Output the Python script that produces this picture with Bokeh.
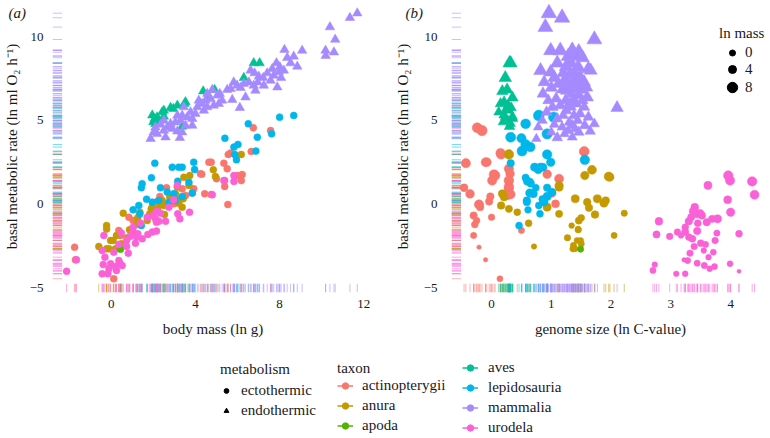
import numpy as np
from bokeh.plotting import figure
from bokeh.layouts import column, row
from bokeh.models import ColumnDataSource, Legend, LegendItem, FixedTicker
from bokeh.embed import file_html
from bokeh.resources import INLINE

# ---------------- data ----------------
taxa = ["actinopterygii", "anura", "apoda", "aves", "lepidosauria", "mammalia", "urodela"]
taxon_colors = ["#F8766D", "#C49A00", "#53B400", "#00C094", "#00B6EB", "#A58AFF", "#FB61D7"]
taxon_metabolism = ["ectothermic", "ectothermic", "ectothermic", "endothermic",
                    "ectothermic", "endothermic", "ectothermic"]
metabolism_types = ["ectothermic", "endothermic"]

mass_ticks = [0, 4, 8, 12]
genome_ticks = [0, 1, 2, 3, 4]
bmr_ticks = [-5, 0, 5, 10]
size_legend_values = [0, 4, 8]

# body mass (ln g), genome size (ln C-value), basal metabolic rate (ln ml O2 h-1)
actinopterygii_mass = [6.75, 7.57, 6.65, 5.67, 5.56, 4.64, 4.75, 5.35, 5.51, 4.24,
                       4.30, 6.22, 6.01, 5.00, 6.18, 5.39, 5.39, 2.63, 3.92, 3.37,
                       3.85, 4.44, 4.75, 3.53, 2.31, 2.18, 2.97, 5.54, 1.95, 1.95,
                       0.84, 1.04, 1.20, 0.36, 0.44, -1.74, -1.70, 0.12]
actinopterygii_bmr = [4.55, 4.39, 3.14, 3.04, 2.96, 2.50, 2.50, 2.44, 2.10, 1.81,
                      1.78, 1.76, 1.70, 1.51, 1.40, 1.40, 1.05, 0.97, 0.91, 0.91,
                      0.65, 0.61, 0.57, 0.51, 0.45, 0.15, 0.01, -0.03, -0.19, -0.69,
                      -0.79, -0.99, -1.23, -1.58, -1.88, -2.58, -3.34, -4.47]
actinopterygii_genome = [-0.24, -0.16, 1.55, 0.15, 0.16, -0.10, -0.08, -0.43, 0.29, 0.31,
                         0.93, 0.04, 0.06, 1.13, 0.29, 0.01, 0.29, -0.46, 0.28, 0.30,
                         1.01, -0.36, 0.32, 0.27, -0.02, -0.04, 1.07, -0.21, -0.19, -0.30,
                         0.00, -0.25, -0.28, 0.50, -0.30, -0.21, -0.10, 0.14]

anura_mass = [6.18, 4.85, 4.95, 3.73, 3.45, 3.69, 3.14, 3.05, 2.78, 3.42,
              3.26, 2.42, 3.21, 2.31, 2.50, 3.37, 2.21, 1.90, 1.36, 0.57,
              1.83, 2.53, 1.26, 1.71, 1.24, -0.22, -0.22, 0.87, 0.25, 0.76,
              -0.03, 0.09, 0.48, 0.41, -0.59, -0.11, -0.22, 0.20]
anura_bmr = [2.96, 2.04, 1.64, 1.70, 1.60, 1.11, 1.00, 0.61, 0.41, 0.31,
             0.31, 0.21, 0.05, 0.11, -0.09, -0.19, -0.23, -0.29, -0.49, -0.55,
             -0.59, -0.63, -0.83, -0.99, -1.15, -1.29, -1.50, -1.54, -1.88, -2.02,
             -2.18, -2.18, -2.38, -2.48, -2.54, -2.68, -2.68, -2.68]
anura_genome = [0.29, 1.68, 1.96, 1.56, 1.98, 1.13, 1.13, 0.18, 0.21, 1.77,
                1.40, 1.91, 1.88, 1.60, 0.16, 0.93, 1.63, 0.29, 0.43, 2.22,
                1.13, 1.73, 1.50, 1.46, 0.62, 1.34, 1.45, 1.45, 2.05, 1.27,
                1.43, 1.49, 1.50, 1.37, 0.71, 1.38, 1.40, 1.36]

apoda_mass = [0.44]
apoda_bmr = [-2.70]
apoda_genome = [1.49]

aves_mass = [6.77, 7.05, 6.30, 4.91, 4.37, 4.59, 3.53, 3.48, 3.14, 2.82,
             2.95, 2.50, 2.42, 1.95, 2.50, 2.18, 2.06, 2.26, 2.10, 3.37, 2.00]
aves_bmr = [8.42, 8.42, 7.54, 6.83, 6.74, 6.35, 6.09, 5.99, 5.89, 5.75,
            5.69, 5.59, 5.49, 5.30, 5.23, 5.19, 5.09, 4.99, 4.79, 4.63, 4.90]
aves_genome = [0.32, 0.30, 0.23, 0.26, 0.18, 0.35, 0.21, 0.15, 0.28, 0.33,
               0.25, 0.29, 0.12, 0.20, 0.35, 0.23, 0.36, 0.27, 0.32, 0.30, 0.19]

lepidosauria_mass = [8.67, 8.00, 6.51, 7.62, 6.94, 5.40, 6.02, 5.83, 6.87, 5.87,
                     5.95, 3.92, 2.07, 3.37, 3.21, 2.90, 3.96, 1.91, 3.16, 3.69,
                     1.47, 1.43, 2.34, 2.66, 3.85, 2.97, 3.37, 1.68, 3.05, 2.26,
                     1.95, 2.74, 1.31, 1.04, 1.36, 1.43]
lepidosauria_bmr = [5.29, 5.19, 4.79, 4.19, 3.99, 3.93, 3.56, 3.40, 3.16, 2.96,
                    2.64, 2.50, 2.44, 2.20, 2.20, 2.20, 2.06, 1.57, 1.36, 1.30,
                    1.21, 0.97, 0.97, 0.71, 0.65, 0.61, 0.45, 0.29, 0.21, 0.21,
                    0.11, 0.11, -0.09, -0.35, -0.59, -1.29]
lepidosauria_genome = [0.79, 1.04, 0.57, 0.93, 0.32, 0.50, 0.57, 0.65, 0.51, 0.93,
                       1.56, 0.99, 0.32, 0.72, 0.82, 0.86, 0.78, 0.57, 0.60, 0.64,
                       0.66, 0.74, 0.93, 1.01, 0.64, 0.70, 0.93, 0.85, 0.87, 0.59,
                       0.59, 0.88, 0.79, 0.61, 0.81, 0.46]

mammalia_mass = [11.69, 11.34, 10.39, 10.64, 9.07, 8.23, 10.58, 10.18, 10.19, 8.67,
                 8.36, 8.52, 7.85, 8.84, 8.01, 7.65, 8.20, 6.62, 7.96, 7.41,
                 6.81, 7.72, 7.01, 7.22, 8.07, 7.57, 6.96, 5.82, 6.54, 6.30,
                 7.25, 6.77, 5.98, 7.89, 6.14, 5.67, 4.80, 5.51, 6.85, 5.16,
                 4.56, 5.04, 6.38, 4.72, 5.75, 5.27, 4.48, 4.16, 5.11, 4.32,
                 4.87, 4.09, 4.56, 3.45, 6.11, 4.40, 4.00, 3.77, 3.37, 3.14,
                 3.61, 3.85, 3.29, 2.50, 3.05, 2.82, 2.34, 3.53, 3.85, 2.66,
                 2.10, 2.90, 2.50, 3.14, 2.02, 3.37, 2.18, 2.58, 3.26, 1.87]
mammalia_bmr = [11.40, 11.13, 10.57, 9.83, 9.17, 9.22, 9.07, 9.17, 8.86, 8.82,
                8.74, 8.42, 8.42, 8.22, 8.18, 8.08, 7.98, 7.98, 7.88, 7.82,
                7.82, 7.68, 7.62, 7.54, 7.54, 7.38, 7.28, 7.28, 7.28, 7.18,
                7.08, 7.08, 7.08, 6.98, 6.95, 6.88, 6.83, 6.83, 6.78, 6.59,
                6.59, 6.49, 6.38, 6.29, 6.23, 6.19, 6.19, 6.19, 5.99, 5.99,
                5.89, 5.79, 5.79, 5.79, 5.75, 5.59, 5.39, 5.49, 5.29, 5.29,
                5.19, 5.09, 4.99, 4.99, 4.89, 4.79, 4.75, 4.69, 4.69, 4.59,
                4.59, 4.49, 4.39, 4.35, 4.29, 4.29, 4.19, 3.99, 3.96, 3.90]
mammalia_genome = [0.96, 1.18, 0.90, 1.72, 0.99, 1.35, 1.46, 1.15, 1.40, 1.28,
                   1.52, 1.10, 1.33, 1.25, 1.45, 1.62, 0.82, 1.66, 0.99, 1.38,
                   1.20, 1.30, 1.48, 1.05, 1.42, 1.22, 1.36, 0.88, 1.55, 1.12,
                   1.27, 1.44, 1.32, 1.58, 1.00, 1.40, 1.18, 1.50, 1.26, 0.86,
                   1.34, 1.46, 1.60, 1.08, 1.37, 1.24, 1.52, 0.95, 1.30, 1.42,
                   1.15, 1.55, 1.02, 1.33, 2.10, 1.25, 1.48, 0.92, 1.38, 1.20,
                   1.62, 1.10, 1.44, 0.85, 1.30, 1.72, 1.05, 1.35, 1.56, 1.18,
                   0.78, 1.40, 1.28, 1.65, 1.00, 1.46, 1.22, 1.35, 1.10, 0.75]

urodela_mass = [5.83, 5.35, 5.83, 3.14, 4.80, 2.97, 2.74, 2.18, 3.72, 2.34,
                3.16, 1.99, 1.71, 2.10, 3.26, 2.58, 2.26, 2.15, 1.39, 1.04,
                2.15, 1.95, 1.04, 0.48, 1.26, 1.74, -0.35, 0.89, 1.20, 1.47,
                0.73, 1.15, 0.36, 0.73, -0.43, 0.12, 0.81, -0.30, -1.65, 0.36,
                0.41, -0.03, -0.38, 0.52, 0.20, -0.11, 0.25, -2.12, -0.43, -0.16]
urodela_bmr = [1.70, 1.40, 1.35, 1.11, 0.55, 0.25, -0.19, -0.43, -0.49, -0.55,
               -0.59, -0.69, -0.79, -0.89, -0.89, -1.03, -1.03, -1.09, -1.15, -1.39,
               -1.62, -1.68, -1.68, -1.74, -1.78, -1.82, -1.88, -1.94, -1.98, -2.08,
               -2.18, -2.34, -2.42, -2.54, -2.78, -2.88, -2.94, -3.18, -3.34, -3.38,
               -3.54, -3.57, -3.62, -3.68, -3.74, -3.87, -3.97, -4.02, -4.17, -4.17]
urodela_genome = [3.96, 3.99, 4.36, 3.62, 4.40, 3.95, 3.40, 3.37, 4.00, 3.49,
                  3.44, 3.52, 3.34, 3.69, 3.78, 2.80, 3.30, 3.60, 3.45, 3.24,
                  3.44, 3.24, 3.11, 3.77, 4.14, 2.76, 3.17, 2.98, 3.30, 3.36,
                  3.74, 3.50, 3.58, 3.39, 3.55, 3.71, 3.32, 3.63, 3.22, 3.28,
                  3.44, 3.99, 2.73, 3.56, 3.73, 3.65, 2.70, 4.14, 3.09, 3.24]

data = {
    "actinopterygii": (actinopterygii_mass, actinopterygii_genome, actinopterygii_bmr),
    "anura": (anura_mass, anura_genome, anura_bmr),
    "apoda": (apoda_mass, apoda_genome, apoda_bmr),
    "aves": (aves_mass, aves_genome, aves_bmr),
    "lepidosauria": (lepidosauria_mass, lepidosauria_genome, lepidosauria_bmr),
    "mammalia": (mammalia_mass, mammalia_genome, mammalia_bmr),
    "urodela": (urodela_mass, urodela_genome, urodela_bmr),
}

# ---------------- styling ----------------
FONT = "Liberation Serif"
TXT = "#1a1a1a"
A_X = (-2.79, 12.46)
B_X = (-0.67, 4.65)
Y = (-5.29, 12.16)
CIRCLE_A = 7
TRI_A = 9.5
NAN = [float("nan")]


def size_of(m):
    return np.sqrt(np.maximum(36.0 + 9.3 * np.asarray(m, dtype=float), 12.0))


sources = {}
for t, met in zip(taxa, taxon_metabolism):
    m, g, b = data[t]
    sb = size_of(m) * (1.3 if met == "endothermic" else 1.0)
    sources[t] = ColumnDataSource(dict(mass=m, genome=g, bmr=b, size_b=sb))


def make_panel(xr, xkey, xticks, xlabel, ystand, ylabstand, tag, tag_off,
               left_border, fw, right_border):
    p = figure(frame_width=fw, frame_height=292, x_range=xr, y_range=Y,
               min_border_left=left_border, min_border_right=right_border, min_border_top=0,
               min_border_bottom=48, toolbar_location=None, output_backend="svg",
               outline_line_color=None, background_fill_color="white")
    p.grid.visible = False
    p.xaxis.ticker = FixedTicker(ticks=xticks)
    p.yaxis.ticker = FixedTicker(ticks=bmr_ticks)
    p.yaxis.major_label_overrides = {-5: "\u22125"}
    p.xaxis.axis_label = xlabel
    p.yaxis.axis_label = "basal metabolic rate (ln ml O\u2082 h\u207b\u00b9)"
    for ax in [p.xaxis[0], p.yaxis[0]]:
        ax.axis_line_color = None
        ax.major_tick_line_color = None
        ax.minor_tick_line_color = None
        ax.major_tick_out = 0
        ax.major_tick_in = 0
        ax.minor_tick_out = 0
        ax.major_label_text_font = FONT
        ax.major_label_text_font_size = "13px"
        ax.major_label_text_color = TXT
        ax.axis_label_text_font = FONT
        ax.axis_label_text_font_size = "15px"
        ax.axis_label_text_font_style = "normal"
        ax.axis_label_text_color = TXT
    p.xaxis.major_label_standoff = 7
    p.xaxis.axis_label_standoff = 10
    p.yaxis.major_label_standoff = ystand
    p.yaxis.axis_label_standoff = ylabstand

    rug_y = 0.03 * (Y[1] - Y[0])
    rug_x = 0.03 * (xr[1] - xr[0])
    for t, col in zip(taxa, taxon_colors):
        src = sources[t]
        p.segment(x0=xkey, x1=xkey, y0=Y[0], y1=Y[0] + rug_y, source=src,
                  line_color=col, line_alpha=0.55, line_width=1)
        p.segment(x0=xr[0], x1=xr[0] + rug_x, y0="bmr", y1="bmr", source=src,
                  line_color=col, line_alpha=0.55, line_width=1)
    order = [i for i, m in enumerate(taxon_metabolism) if m == "ectothermic"] + \
            [i for i, m in enumerate(taxon_metabolism) if m == "endothermic"]
    for i in order:
        t, col, met = taxa[i], taxon_colors[i], taxon_metabolism[i]
        marker = "circle" if met == "ectothermic" else "triangle"
        if xkey == "mass":
            sz = CIRCLE_A if met == "ectothermic" else TRI_A
        else:
            sz = "size_b"
        p.scatter(x=xkey, y="bmr", source=sources[t], marker=marker, size=sz,
                  fill_color=col, line_color=col, line_width=0.5)
    # panel tag, drawn unclipped in the left margin
    p.text(x=[xr[0]], y=[Y[1]], text=[tag], x_offset=tag_off, y_offset=4,
           text_baseline="top", text_align="left", text_font=FONT_VAL,
           text_font_style="italic", text_font_size="15px", text_color=TXT, level="overlay")
    return p


from bokeh.core.properties import value
FONT_VAL = value(FONT)

pa = make_panel(A_X, "mass", mass_ticks, "body mass (ln g)", 9, 7, "(a)", -44, 52, 321, 0)
pb = make_panel(B_X, "genome", genome_ticks, "genome size (ln C-value)", 14, 10, "(b)", -46, 78, 318, 1)

LEG = dict(background_fill_alpha=0, border_line_alpha=0, padding=0, margin=0, spacing=3,
           label_text_font=FONT, label_text_font_size="15px", label_text_color=TXT,
           title_text_font=FONT, title_text_font_size="15px", title_text_font_style="normal",
           title_text_color=TXT, label_height=17)

# size legend inside panel b
size_boxes = [15, 20, 26]
size_locs = [(268, 231), (268, 213), (268, 192)]
for k, (v, gh, loc) in enumerate(zip(size_legend_values, size_boxes, size_locs)):
    r = pb.scatter(x=NAN, y=NAN, marker="circle", size=0.4 * gh, color="black")
    lg = Legend(items=[LegendItem(label=str(v), renderers=[r])], location=loc,
                glyph_width=26, glyph_height=gh, label_standoff=0, **LEG)
    if k == 0:
        lg.title = "ln mass"
        lg.title_standoff = 2
    pb.add_layout(lg)

# bottom legends
leg = figure(width=770, height=98, min_border=0, toolbar_location=None, output_backend="svg",
             x_axis_location=None, y_axis_location=None, outline_line_color=None,
             x_range=(0, 1), y_range=(0, 1))
leg.grid.visible = False

met_items = []
for mt, mk, sz in zip(metabolism_types, ["circle", "triangle"], [5.5, 6.5]):
    r = leg.scatter(x=NAN, y=NAN, marker=mk, size=sz, color="black")
    met_items.append(LegendItem(label=mt, renderers=[r]))
leg.add_layout(Legend(items=met_items, title="metabolism", title_standoff=4, location=(220, 19),
                      glyph_width=12, glyph_height=17, label_standoff=9, **LEG))

tax_items = []
for t, col in zip(taxa, taxon_colors):
    rl = leg.line(x=NAN, y=NAN, line_color=col, line_width=1.5)
    rp = leg.scatter(x=NAN, y=NAN, marker="circle", size=6, color=col)
    tax_items.append(LegendItem(label=t, renderers=[rl, rp]))
leg.add_layout(Legend(items=tax_items[:3], title="taxon", title_standoff=0, location=(337, 4),
                      glyph_width=16, glyph_height=17, label_standoff=9, **LEG))
leg.add_layout(Legend(items=tax_items[3:], location=(462, 2),
                      glyph_width=16, glyph_height=17, label_standoff=10, **LEG))

layout = column(row(pa, pb), leg)
open("out.html", "w").write(file_html(layout, INLINE))
